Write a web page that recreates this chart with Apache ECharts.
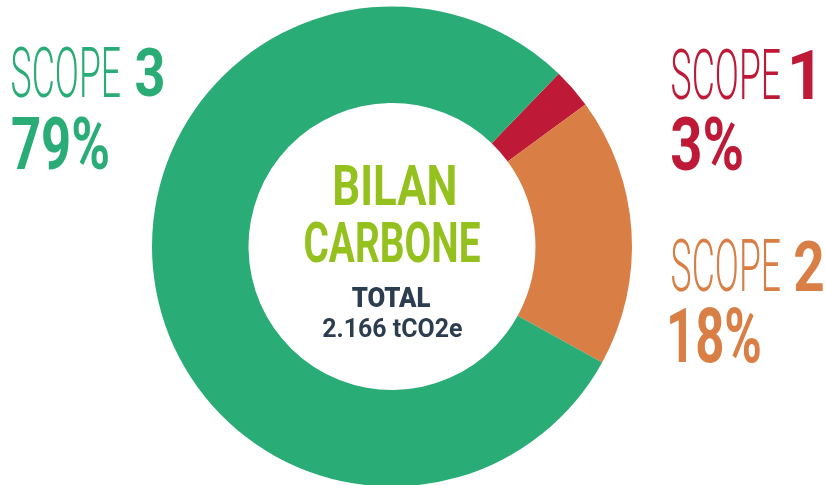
<!DOCTYPE html>
<html>
<head>
<meta charset="utf-8">
<script src="https://cdn.jsdelivr.net/npm/echarts@6/dist/echarts.min.js"></script>
<style>
html, body { margin: 0; padding: 0; background: #fff; }
#chart { width: 826px; height: 485px; }
</style>
</head>
<body>
<div id="chart"></div>
<script>
// data
const scopes = ['SCOPE 1', 'SCOPE 2', 'SCOPE 3']
const shares = [2.7, 18.1, 79.2]
const colors = ['#be1936', '#d97e45', '#2aac77']
const titleLines = ['BILAN', 'CARBONE']
const totalLabel = 'TOTAL'
const totalValue = '2.166 tCO2e'

// ink boxes of the labels [x0, y0, x1, y1]
const scopeBoxes = [
  { word: [672, 48, 780, 100], num: [792, 49, 813, 99], pct: [672, 116, 742, 171] },
  { word: [672, 239, 780, 292], num: [795, 239, 823, 291], pct: [670, 307, 760, 363] },
  { word: [12, 46, 120, 98], num: [136, 47, 163, 97], pct: [12, 117, 108, 170] }
]
const titleBoxes = [[335, 165, 455, 205], [305, 222, 480, 263]]
const totalBox = [352, 287, 430, 307]
const valueBox = [323, 318, 462, 337]

const measureCtx = document.createElement('canvas').getContext('2d')

// stretch a text so that its ink fills the given box
const boxText = (text, font, fill, box) => {
  measureCtx.font = font
  measureCtx.textAlign = 'left'
  measureCtx.textBaseline = 'middle'
  const m = measureCtx.measureText(text)
  const inkW = m.actualBoundingBoxLeft + m.actualBoundingBoxRight
  const inkH = m.actualBoundingBoxAscent + m.actualBoundingBoxDescent
  const [x0, y0, x1, y1] = box
  const sx = (x1 - x0) / inkW
  const sy = (y1 - y0) / inkH
  return {
    type: 'text',
    silent: true,
    x: x0 + sx * m.actualBoundingBoxLeft,
    y: y0 + sy * m.actualBoundingBoxAscent,
    scaleX: sx,
    scaleY: sy,
    style: {
      text,
      font,
      fill,
      align: 'left',
      verticalAlign: 'middle',
      textAlign: 'left',
      textVerticalAlign: 'middle'
    }
  }
}

const graphics = []
scopes.forEach((name, i) => {
  const [word, num] = name.split(' ')
  const b = scopeBoxes[i]
  graphics.push(boxText(word, '300 100px Roboto', colors[i], b.word))
  graphics.push(boxText(num, 'bold 100px Roboto', colors[i], b.num))
  graphics.push(boxText(Math.round(shares[i]) + '%', 'bold 100px Roboto', colors[i], b.pct))
})
titleLines.forEach((line, i) => {
  graphics.push(boxText(line, 'bold 100px Roboto', '#95c11f', titleBoxes[i]))
})
graphics.push(boxText(totalLabel, '900 100px Roboto', '#2c3d50', totalBox))
graphics.push(boxText(totalValue, 'bold 100px Roboto', '#2c3d50', valueBox))

const chart = echarts.init(document.getElementById('chart'))
chart.setOption({
  animation: false,
  backgroundColor: '#fff',
  series: [
    {
      type: 'pie',
      center: [392, 246.5],
      radius: [143.5, 240],
      startAngle: 46,
      clockwise: true,
      silent: true,
      label: { show: false },
      labelLine: { show: false },
      itemStyle: { borderWidth: 0 },
      emphasis: { disabled: true },
      data: scopes.map((name, i) => ({
        name,
        value: shares[i],
        itemStyle: { color: colors[i] }
      }))
    }
  ],
  graphic: graphics
})
</script>
</body>
</html>
